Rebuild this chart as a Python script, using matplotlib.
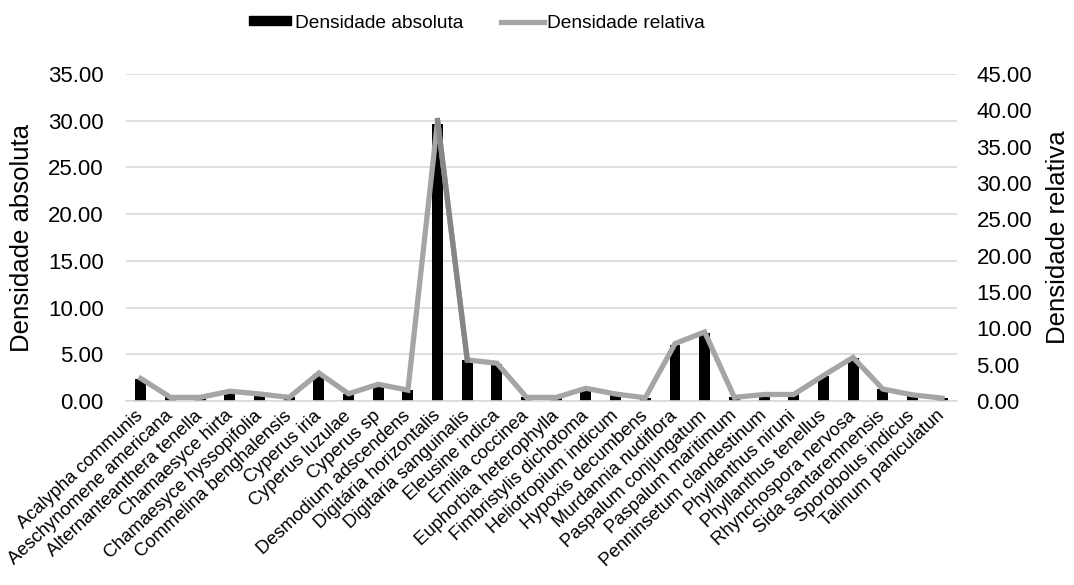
import numpy as np
import matplotlib
matplotlib.use('Agg')
import matplotlib.pyplot as plt
from matplotlib.patches import Patch
from matplotlib.lines import Line2D

plt.rcParams['font.family'] = ['Liberation Sans', 'DejaVu Sans']

# species names (x axis)
especies = ['Acalypha communis', 'Aeschynomene americana', 'Alternanteanthera tenella',
            'Chamaesyce hirta', 'Chamaesyce hyssopifolia', 'Commelina benghalensis',
            'Cyperus iria', 'Cyperus luzulae', 'Cyperus sp', 'Desmodium adscendens',
            'Digitária horizontalis', 'Digitaria sanguinalis', 'Eleusine indica',
            'Emilia coccinea', 'Euphorbia heterophylla', 'Fimbristylis dichotoma',
            'Heliotropium indicum', 'Hypoxis decumbens', 'Murdannia nudiflora',
            'Paspalum conjungatum', 'Paspalum maritimum', 'Penninsetum clandestinum',
            'Phyllanthus niruni', 'Phyllanthus tenellus', 'Rhynchospora nervosa',
            'Sida santaremnensis', 'Sporobolus indicus', 'Talinum paniculatun']

# densidade absoluta (left axis, bars)
dens_abs = [2.35, 0.39, 0.39, 1.00, 0.75, 0.39, 2.90, 0.78, 1.80, 1.15,
            29.70, 4.35, 4.00, 0.39, 0.39, 1.35, 0.75, 0.35, 6.00, 7.30,
            0.39, 0.70, 0.70, 2.70, 4.60, 1.30, 0.65, 0.35]

# densidade relativa (right axis, line)
dens_rel = [3.10, 0.50, 0.50, 1.35, 0.97, 0.50, 3.85, 1.00, 2.30, 1.50,
            38.60, 5.65, 5.20, 0.50, 0.50, 1.75, 0.96, 0.45, 7.90, 9.50,
            0.50, 0.90, 0.90, 3.50, 6.00, 1.65, 0.85, 0.40]

x = np.arange(len(especies))

fig = plt.figure(figsize=(10.74, 5.85), dpi=100)
ax = fig.add_axes([0.1173, 0.3145, 0.7737, 0.559])

ax.bar(x, dens_abs, width=0.37, color='black', zorder=2)
ax.set_ylim(0, 35)
ax.set_yticks(np.arange(0, 36, 5))
ax.set_yticklabels(['%.2f' % v for v in np.arange(0, 36, 5)])
ax.set_xlim(-0.5, len(especies) - 0.5)
ax.yaxis.grid(True, color='#d9d9d9', linewidth=1.2, zorder=0)
ax.set_axisbelow(True)
for s in ['top', 'left', 'right']:
    ax.spines[s].set_visible(False)
ax.spines['bottom'].set_color('#d9d9d9')
ax.spines['bottom'].set_linewidth(1.2)
ax.tick_params(axis='y', length=0, pad=16, labelsize=16)
ax.tick_params(axis='x', length=0, pad=9)
ax.set_xticks(x)
ax.set_xticklabels(especies, rotation=43, ha='right', va='center',
                   rotation_mode='anchor', fontsize=13.2)
ax.set_ylabel('Densidade absoluta', fontsize=18.5, labelpad=10)

# second axis with the line
ax2 = ax.twinx()
ax2.plot(x, dens_rel, color='#a5a5a5', linewidth=3.8, solid_joinstyle='miter')
# darker descending segment as in the original render
ax2.plot(x[10:12], dens_rel[10:12], color='#868686', linewidth=3.8)
ax2.set_ylim(0, 45)
ax2.set_yticks(np.arange(0, 46, 5))
ax2.set_yticklabels(['%.2f' % v for v in np.arange(0, 46, 5)])
for s in ['top', 'left', 'right', 'bottom']:
    ax2.spines[s].set_visible(False)
ax2.tick_params(axis='y', length=0, pad=14, labelsize=16)
ax2.set_ylabel('Densidade relativa', fontsize=18.5, labelpad=10)

# legend on top
handles = [Patch(facecolor='black', edgecolor='black'),
           Line2D([], [], color='#a5a5a5', linewidth=3.8)]
fig.legend(handles, ['Densidade absoluta', 'Densidade relativa'],
           loc='center', bbox_to_anchor=(477 / 1074, 1 - 23 / 585), ncol=2,
           frameon=False, fontsize=13.8, handlelength=2.2, handleheight=0.35,
           handletextpad=0.2, columnspacing=2.0)

plt.savefig('out.png', dpi=100)
